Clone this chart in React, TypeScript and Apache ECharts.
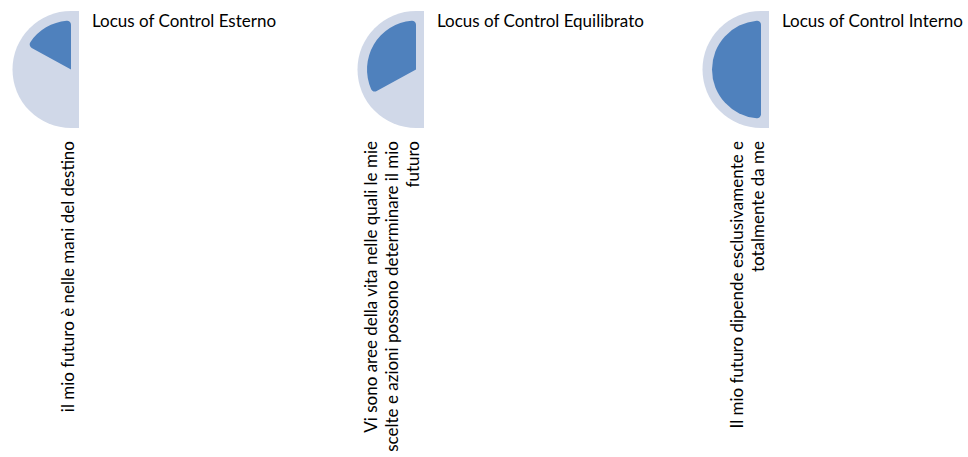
import React, { useEffect, useRef } from "react";
import * as echarts from "echarts";

const titles = [
  "Locus of Control Esterno",
  "Locus of Control Equilibrato",
  "Locus of Control Interno",
];
const categories = [
  "il mio futuro è nelle mani del destino",
  "Vi sono aree della vita nelle quali le mie\nscelte e azioni possono determinare il mio\nfuturo",
  "Il mio futuro dipende esclusivamente e\ntotalmente da me",
];
const values = [34, 66, 100];
const maxValue = 100;

const BLUE = "#4F81BD";
const BG = "#D0D8E8";
const FONT = "Lato";

export default function App() {
  const ref = useRef<HTMLDivElement>(null);
  useEffect(() => {
    if (!ref.current) return;
    const chart = echarts.init(ref.current, undefined, { renderer: "svg" });
    const offsets = [0, 345, 690];
    const cx = 71;
    const cy = 69.5;
    const rBg = 58.5;
    const rFg = 49;

    const series: any[] = [];
    const graphic: any[] = [];
    const title: any[] = [];

    values.forEach((v, i) => {
      const ox = offsets[i];
      series.push({
        type: "pie",
        silent: true,
        center: [cx + ox, cy],
        radius: rBg,
        startAngle: 90,
        clockwise: false,
        label: { show: false },
        labelLine: { show: false },
        z: 1,
        data: [
          { value: maxValue, itemStyle: { color: BG } },
          { value: maxValue, itemStyle: { color: "transparent" } },
        ],
      });
      series.push({
        type: "pie",
        silent: true,
        center: [cx + ox, cy],
        radius: rFg,
        startAngle: 90,
        clockwise: false,
        label: { show: false },
        labelLine: { show: false },
        z: 3,
        data: [
          { value: v, itemStyle: { color: BLUE, borderRadius: 4 } },
          { value: maxValue - v, itemStyle: { color: "transparent" } },
          { value: maxValue, itemStyle: { color: "transparent" } },
        ],
      });
      graphic.push({
        type: "rect",
        silent: true,
        z: 0,
        shape: { x: cx + ox, y: cy - rBg, width: 8, height: rBg * 2 },
        style: { fill: BG },
      });
      graphic.push({
        type: "text",
        silent: true,
        x: cx + ox + 7,
        y: 141,
        rotation: Math.PI / 2,
        style: {
          text: categories[i],
          fill: "#000",
          fontSize: 17,
          fontFamily: FONT,
          align: "right",
          verticalAlign: "bottom",
          lineHeight: 21,
        },
      });
      title.push({
        text: titles[i],
        left: 92 + ox,
        top: 11,
        padding: 0,
        textStyle: {
          color: "#000",
          fontSize: 17,
          fontWeight: "normal",
          fontFamily: FONT,
          lineHeight: 19,
        },
      });
    });

    chart.setOption({
      animation: false,
      backgroundColor: "#fff",
      title,
      series,
      graphic,
    });
    return () => chart.dispose();
  }, []);
  return (
    <div
      ref={ref}
      style={{ position: "fixed", left: 0, top: 0, width: 968, height: 457 }}
    />
  );
}
